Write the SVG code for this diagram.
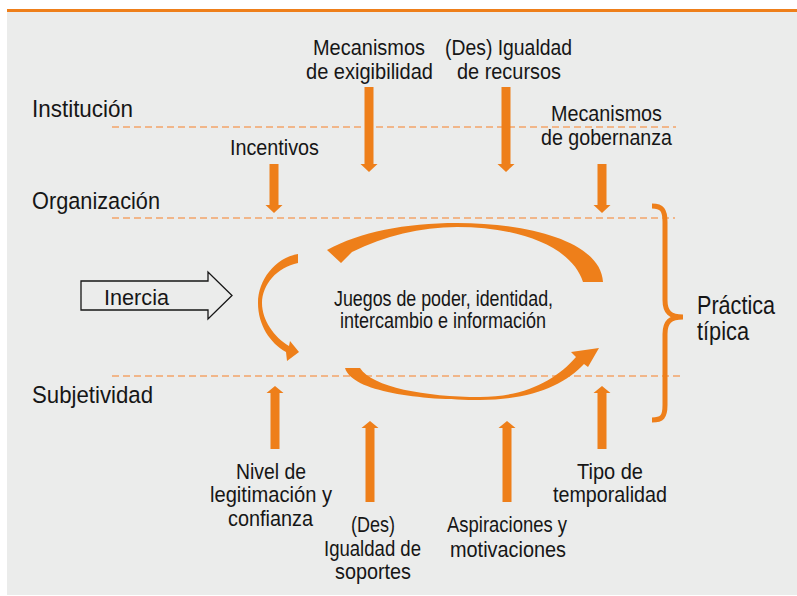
<svg xmlns="http://www.w3.org/2000/svg" width="797" height="596" viewBox="0 0 797 596">
<style>
text{font-family:"Liberation Sans",Arial,sans-serif;fill:#161616;font-size:22.5px}
.lvl{font-size:24.5px}
.big{font-size:25px}
.mid{font-size:21.5px}
.dash{stroke:#f3a469;stroke-width:1.6;stroke-dasharray:7 4;fill:none}
.or{fill:#ee7f1a}
</style>
<rect x="0" y="0" width="797" height="596" fill="#ffffff"/>
<rect x="7" y="9" width="790" height="586" fill="#ebeceb"/>
<rect x="7" y="9" width="790" height="3" fill="#ee7f1a"/>

<g id="levels">
<line class="dash" x1="112" y1="127" x2="676" y2="127"/>
<line class="dash" x1="112" y1="218" x2="675" y2="218"/>
<line class="dash" x1="112" y1="376" x2="681" y2="376"/>
<text class="lvl" x="32" y="117" textLength="101" lengthAdjust="spacingAndGlyphs">Institución</text>
<text class="lvl" x="32" y="209" textLength="128" lengthAdjust="spacingAndGlyphs">Organización</text>
<text class="lvl" x="32" y="403" textLength="121" lengthAdjust="spacingAndGlyphs">Subjetividad</text>
</g>

<g id="connectors" class="or">
<polygon points="364.5,87 373.5,87 373.5,164 377.5,164 369,172 360.5,164 364.5,164"/>
<polygon points="501.5,87 510.5,87 510.5,164 514.5,164 506,172 497.5,164 501.5,164"/>
<polygon points="269.5,164 278.5,164 278.5,205 282.5,205 274,213 265.5,205 269.5,205"/>
<polygon points="597.5,164 606.5,164 606.5,205 610.5,205 602,213 593.5,205 597.5,205"/>
<polygon points="270.5,449 279.5,449 279.5,393 283.5,393 275,386 266.5,393 270.5,393"/>
<polygon points="365.5,502 374.5,502 374.5,428 378.5,428 370,421 361.5,428 365.5,428"/>
<polygon points="502.5,502 511.5,502 511.5,428 515.5,428 507,421 498.5,428 502.5,428"/>
<polygon points="597.5,449 606.5,449 606.5,393 610.5,393 602,386 593.5,393 597.5,393"/>
<path d="M603 282 C601 242 530 223 457 223 C405 223 360 232 327 250 L341 263 L352 252 C385 236 420 227 457 227 C520 227 572 247 583 282 Z"/>
<path d="M298 254 C275 258 258 280 258 303 C258 325 270 343 286 352 L287 361 L299 352 L290 341 L289 346 C274 337 262 320 262 303 C262 285 277 267 298 263 Z"/>
<path d="M345 368 C352 392 420 400 480 400 C530 400 565 385 584 364 L588 367 L599 348 L571 352 L576 357 C556 380 525 397 480 397 C425 397 372 387 360 368 Z"/>
<path d="M652 206 C662 206 665 210 665 222 L665 300 C665 312 670 317 683 317 C670 317 665 322 665 334 L665 405 C665 417 662 420 652 420" fill="none" stroke="#ee7f1a" stroke-width="5"/>
</g>

<g id="inercia">
<path d="M81 281 L208 281 L208 272 L232 295.5 L208 319 L208 310 L81 310 Z" fill="none" stroke="#161616" stroke-width="1.3"/>
<text x="104" y="305" textLength="65" lengthAdjust="spacingAndGlyphs">Inercia</text>
</g>

<g id="juegos">
<text class="mid" x="334" y="306" textLength="219" lengthAdjust="spacingAndGlyphs">Juegos de poder, identidad,</text>
<text class="mid" x="340" y="328" textLength="206" lengthAdjust="spacingAndGlyphs">intercambio e información</text>
</g>

<g id="exigibilidad">
<text x="313" y="55" textLength="112" lengthAdjust="spacingAndGlyphs">Mecanismos</text>
<text x="306" y="79" textLength="127" lengthAdjust="spacingAndGlyphs">de exigibilidad</text>
</g>
<g id="recursos">
<text x="445" y="55" textLength="127" lengthAdjust="spacingAndGlyphs">(Des) Igualdad</text>
<text x="457" y="79" textLength="104" lengthAdjust="spacingAndGlyphs">de recursos</text>
</g>
<g id="gobernanza">
<text x="551" y="121" textLength="111" lengthAdjust="spacingAndGlyphs">Mecanismos</text>
<text x="541" y="145" textLength="131" lengthAdjust="spacingAndGlyphs">de gobernanza</text>
</g>
<g id="incentivos">
<text x="230" y="155" textLength="89" lengthAdjust="spacingAndGlyphs">Incentivos</text>
</g>
<g id="practica">
<text class="big" x="697" y="314" textLength="78" lengthAdjust="spacingAndGlyphs">Práctica</text>
<text class="big" x="697" y="340" textLength="52" lengthAdjust="spacingAndGlyphs">típica</text>
</g>
<g id="nivel">
<text x="236" y="479" textLength="70" lengthAdjust="spacingAndGlyphs">Nivel de</text>
<text x="210" y="502" textLength="122" lengthAdjust="spacingAndGlyphs">legitimación y</text>
<text x="228" y="526" textLength="85" lengthAdjust="spacingAndGlyphs">confianza</text>
</g>
<g id="soportes">
<text x="351" y="532" textLength="44" lengthAdjust="spacingAndGlyphs">(Des)</text>
<text x="324" y="556" textLength="97" lengthAdjust="spacingAndGlyphs">Igualdad de</text>
<text x="335" y="579" textLength="76" lengthAdjust="spacingAndGlyphs">soportes</text>
</g>
<g id="aspiraciones">
<text x="447" y="532" textLength="120" lengthAdjust="spacingAndGlyphs">Aspiraciones y</text>
<text x="450" y="557" textLength="116" lengthAdjust="spacingAndGlyphs">motivaciones</text>
</g>
<g id="temporalidad">
<text x="577" y="479" textLength="66" lengthAdjust="spacingAndGlyphs">Tipo de</text>
<text x="553" y="502" textLength="114" lengthAdjust="spacingAndGlyphs">temporalidad</text>
</g>
</svg>
